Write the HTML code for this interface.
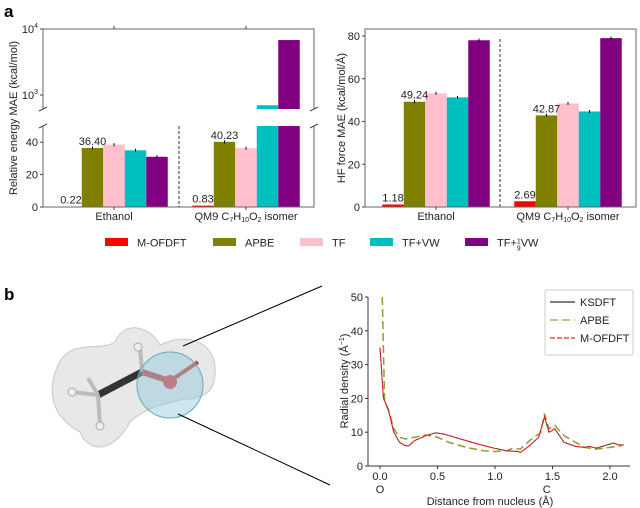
<!DOCTYPE html>
<html><head><meta charset="utf-8"><style>
body{margin:0;background:#fff;}
svg{display:block;font-family:"Liberation Sans",sans-serif;}
</style></head><body>
<svg id="fig" width="640" height="508" viewBox="0 0 640 508">
<text x="4" y="17" font-size="17" font-weight="bold">a</text>
<text x="4" y="300" font-size="17" font-weight="bold">b</text>
<g id="left"></g>
<g id="right"></g>
<g id="legend"></g>
<g id="mol">
  <path d="M58,365 C70,338 100,352 115,342 C125,318 152,328 160,345 C192,330 218,345 215,375 C213,400 192,398 180,400 C160,405 145,408 130,422 C112,455 88,452 80,432 C62,422 42,402 58,365 Z" fill="#d8d8d8" fill-opacity="0.6" stroke="#c8c8c8"/>
  <line x1="98" y1="395" x2="142" y2="372" stroke="#333" stroke-width="7"/>
  <line x1="98" y1="395" x2="72" y2="392" stroke="#bbb" stroke-width="4"/>
  <line x1="98" y1="395" x2="100" y2="425" stroke="#bbb" stroke-width="4"/>
  <line x1="98" y1="395" x2="88" y2="378" stroke="#bbb" stroke-width="4"/>
  <line x1="142" y1="372" x2="140" y2="347" stroke="#bbb" stroke-width="4"/>
  <line x1="142" y1="372" x2="170" y2="381" stroke="#c44" stroke-width="6"/>
  <line x1="170" y1="381" x2="198" y2="362" stroke="#c44" stroke-width="4"/>
  <circle cx="170" cy="382" r="7" fill="#d44"/>
  <circle cx="72" cy="392" r="4" fill="#eee" stroke="#aaa"/>
  <circle cx="100" cy="426" r="4" fill="#eee" stroke="#aaa"/>
  <circle cx="138" cy="347" r="4" fill="#eee" stroke="#aaa"/>
  <circle cx="170" cy="385" r="33" fill="#8ec8dc" fill-opacity="0.45" stroke="#6ab" stroke-width="1"/>
  <line x1="183" y1="346" x2="322" y2="286" stroke="#000" stroke-width="1"/>
  <line x1="178" y1="414" x2="330" y2="485" stroke="#000" stroke-width="1"/>
</g>
<g id="dens"></g>
</svg>
<script>
const NS="http://www.w3.org/2000/svg";
function mk(p,t,a){const e=document.createElementNS(NS,t);for(const k in a)e.setAttribute(k,a[k]);p.appendChild(e);return e;}
function tx(p,x,y,s,o){const e=mk(p,'text',Object.assign({x:x,y:y,'font-size':11,fill:'#222'},o||{}));e.textContent=s;return e;}

const methods=["M-OFDFT","APBE","TF","TF+VW","TF+1/9VW"];
const colors=["#ff0000","#808000","#ffc0cb","#00bfbf","#800080"];
const systems=["Ethanol","QM9 C7H10O2 isomer"];
const energyEthanol=[0.22,36.40,38.5,35.0,31.0];
const energyQM9=[0.83,40.23,36.3,700,6800];
const forceEthanol=[1.18,49.24,53.2,51.3,78.0];
const forceQM9=[2.69,42.87,48.5,44.7,79.0];
const energyTicks=[0,20,40];
const forceTicks=[0,20,40,60,80];

function xlabels(g,cx,y){
  tx(g,cx[0],y,"Ethanol",{'text-anchor':'middle'});
  const t=tx(g,cx[1],y,"QM9 C",{'text-anchor':'middle'});
  
  t.innerHTML='QM9 C<tspan font-size="7" dy="2">7</tspan><tspan dy="-2">H</tspan><tspan font-size="7" dy="2">10</tspan><tspan dy="-2">O</tspan><tspan font-size="7" dy="2">2</tspan><tspan dy="-2"> isomer</tspan>';
}

(function(){
  const g=document.getElementById('left');
  const L=43,R=314,lowTop=126,lowBot=207,upTop=29,upBot=109;
  const yLow=v=>lowBot-(Math.min(v,50)/50)*(lowBot-lowTop);
  const yUp=v=>95-(Math.log10(v)-3)*66;
  const cx=[114,246],bw=21.5;
  const data=[energyEthanol,energyQM9];
  data.forEach((vals,gi)=>{vals.forEach((v,i)=>{
    const x=cx[gi]+(i-2)*bw-bw/2;
    let r=mk(g,'rect',{x:x,y:yLow(v),width:bw,height:lowBot-yLow(v),fill:colors[i]});
    
    
    if(v>50){let u=mk(g,'rect',{x:x,y:yUp(v),width:bw,height:upBot-yUp(v),fill:colors[i]});
      
      }
    if(i>0&&v<=50)mk(g,'line',{x1:x+bw/2,x2:x+bw/2,y1:yLow(v)-1.5,y2:yLow(v)+1.5,stroke:'#000'});
  });
  tx(g,cx[gi]-2*bw,yLow(vals[0])-3,vals[0].toFixed(2),{'text-anchor':'middle'});
  tx(g,cx[gi]-bw,yLow(vals[1])-3,vals[1].toFixed(2),{'text-anchor':'middle'});
  });
  mk(g,'path',{d:`M${L},${upBot} V${upTop} H${R} V${upBot}`,fill:'none',stroke:'#666'});
  mk(g,'path',{d:`M${L},${lowTop} V${lowBot} H${R} V${lowTop}`,fill:'none',stroke:'#666'});
  [L,R].forEach(x=>{[upBot,lowTop].forEach(y=>mk(g,'line',{x1:x-4,y1:y+2,x2:x+4,y2:y-2,stroke:'#444'}));});
  energyTicks.forEach(t=>{const y=yLow(t);mk(g,'line',{x1:L-3,x2:L,y1:y,y2:y,stroke:'#444'});tx(g,L-5,y+4,String(t),{'text-anchor':'end'});});
  [[3,"3"],[4,"4"]].forEach(([p,s])=>{const y=yUp(Math.pow(10,p));mk(g,'line',{x1:L-3,x2:L,y1:y,y2:y,stroke:'#444'});
    const t=tx(g,L-5,y+4,"",{'text-anchor':'end'});t.innerHTML='10<tspan font-size="7" dy="-5">'+s+'</tspan>';});
  cx.forEach(c=>{mk(g,'line',{x1:c,x2:c,y1:upTop-3,y2:upTop,stroke:'#444'});mk(g,'line',{x1:c,x2:c,y1:lowBot,y2:lowBot+3,stroke:'#444'});});
  mk(g,'line',{x1:179,x2:179,y1:126,y2:207,stroke:'#333','stroke-dasharray':'3,2'});
  xlabels(g,cx,220);
  tx(g,17,118,"Relative energy MAE (kcal/mol)",{'text-anchor':'middle',transform:'rotate(-90 17 118)'});
})();

(function(){
  const g=document.getElementById('right');
  const L=365,R=636,T=29,B=207;
  const y=v=>B-v/80*171;
  const cx=[436,568],bw=21.5;
  [forceEthanol,forceQM9].forEach((vals,gi)=>{vals.forEach((v,i)=>{
    const x=cx[gi]+(i-2)*bw-bw/2;
    let r=mk(g,'rect',{x:x,y:y(v),width:bw,height:B-y(v),fill:colors[i]});
    
    
    if(i>0)mk(g,'line',{x1:x+bw/2,x2:x+bw/2,y1:y(v)-1.5,y2:y(v)+1.5,stroke:'#000'});
  });
  tx(g,cx[gi]-2*bw,y(vals[0])-3,vals[0].toFixed(2),{'text-anchor':'middle'});
  tx(g,cx[gi]-bw,y(vals[1])-3,vals[1].toFixed(2),{'text-anchor':'middle'});
  });
  mk(g,'rect',{x:L,y:T,width:R-L,height:B-T,fill:'none',stroke:'#666'});
  forceTicks.forEach(t=>{mk(g,'line',{x1:L-3,x2:L,y1:y(t),y2:y(t),stroke:'#444'});tx(g,L-5,y(t)+4,String(t),{'text-anchor':'end'});});
  cx.forEach(c=>mk(g,'line',{x1:c,x2:c,y1:B,y2:B+3,stroke:'#444'}));
  mk(g,'line',{x1:500,x2:500,y1:T+10,y2:B,stroke:'#333','stroke-dasharray':'3,2'});
  xlabels(g,cx,220);
  tx(g,345,118,"HF force MAE (kcal/mol/Å)",{'text-anchor':'middle',transform:'rotate(-90 345 118)'});
})();

(function(){
  const g=document.getElementById('legend');
  const px=[105,213,300,370,465];
  methods.forEach((m,i)=>{
    const r=mk(g,'rect',{x:px[i],y:238,width:23,height:8,fill:colors[i]});
    
    
    const t=tx(g,px[i]+32,246.5,m,{'font-size':11});
    if(i==4)t.innerHTML='TF+<tspan font-size="7" dy="-3">1</tspan><tspan font-size="7" dx="-4" dy="7">9</tspan><tspan dy="-4">VW</tspan>';
  });
})();

const distKS=[0,0.03,0.07,0.12,0.17,0.22,0.25,0.3,0.4,0.48,0.55,0.7,0.85,1.0,1.1,1.2,1.22,1.3,1.38,1.43,1.47,1.52,1.6,1.7,1.78,1.82,1.88,1.95,2.03,2.07,2.12];
const densKS=[35,20,17,10,7,6,6,7.5,9,9.8,9.5,8,6.5,5.2,4.5,4.3,4,6,8.5,14.5,10,11,7,5.8,5.5,5.8,5.3,6,6.8,6.3,6.2];
const distAPBE=[0.02,0.04,0.08,0.12,0.17,0.22,0.3,0.4,0.5,0.6,0.75,0.9,1.0,1.1,1.15,1.22,1.3,1.4,1.43,1.47,1.52,1.6,1.7,1.78,1.88,2.0,2.1];
const densAPBE=[50,19,16,11,8.5,8,8.5,9.2,8.5,7,5.5,4.5,4.3,4.5,5.2,5,7.5,10,15.5,11,12,9,7,5.5,5,5.5,6];
const densTicks=[0,10,20,30,40,50];
const distTicks=[0,0.5,1.0,1.5,2.0];
(function(){
  const g=document.getElementById('dens');
  const X=v=>380+v*115, Y=v=>466-v/50*169;
  mk(g,'line',{x1:368,x2:368,y1:297,y2:466,stroke:'#333'});
  mk(g,'line',{x1:368,x2:630,y1:466,y2:466,stroke:'#333'});
  densTicks.forEach(t=>{mk(g,'line',{x1:365,x2:368,y1:Y(t),y2:Y(t),stroke:'#333'});tx(g,363,Y(t)+4,String(t),{'text-anchor':'end'});});
  distTicks.forEach(t=>{mk(g,'line',{x1:X(t),x2:X(t),y1:466,y2:469,stroke:'#333'});tx(g,X(t),480,t.toFixed(1),{'text-anchor':'middle'});});
  tx(g,X(0),493,"O",{'text-anchor':'middle'});
  tx(g,X(1.45),493,"C",{'text-anchor':'middle'});
  tx(g,490,505,"Distance from nucleus (Å)",{'text-anchor':'middle'});
  const yl=tx(g,348,381,"",{'text-anchor':'middle',transform:'rotate(-90 348 381)'});
  
  yl.innerHTML='Radial density (Å<tspan font-size="7" dy="-4">−1</tspan><tspan dy="4">)</tspan>';
  const pts=(xs,ys)=>xs.map((x,i)=>X(x)+','+Y(ys[i])).join(' ');
  let a=mk(g,'polyline',{points:pts(distAPBE,densAPBE),fill:'none',stroke:'#999933','stroke-width':1.5,'stroke-dasharray':'8,4'});
  
  let k=mk(g,'polyline',{points:pts(distKS,densKS),fill:'none',stroke:'#333','stroke-width':1});
  
  let m=mk(g,'polyline',{points:pts(distKS,densKS),fill:'none',stroke:'#ff2020','stroke-width':1,'stroke-dasharray':'5,2'});
  
  mk(g,'rect',{x:545,y:290,width:88,height:65,fill:'#fff',stroke:'#ccc',rx:2});
  [["KSDFT","#333",""],["APBE","#999933","8,4"],["M-OFDFT","#ff2020","5,2"]].forEach((e,i)=>{
    const y=302+i*18;
    mk(g,'line',{x1:550,x2:575,y1:y,y2:y,stroke:e[1],'stroke-width':1.3,'stroke-dasharray':e[2]});
    tx(g,580,y+4,e[0],{'font-size':11});
  });
})();
</script>
</body></html>
